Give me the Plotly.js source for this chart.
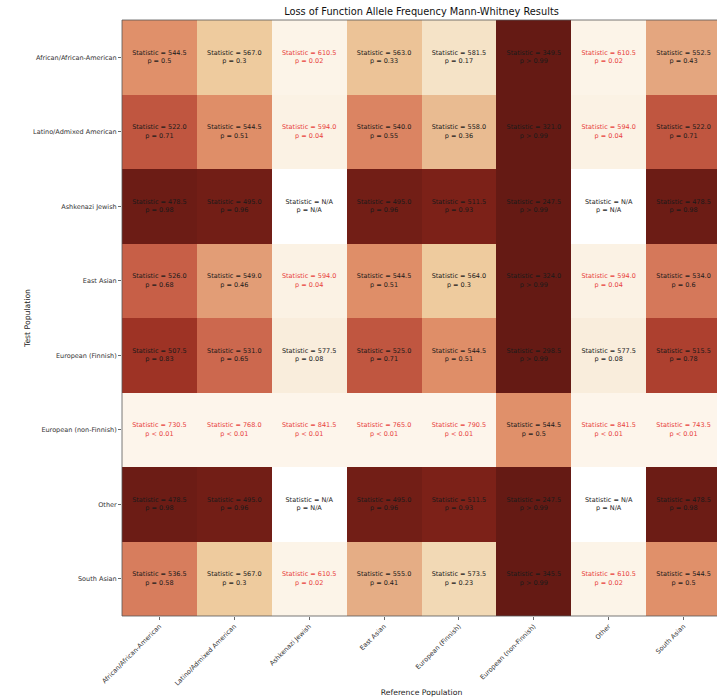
<!DOCTYPE html>
<html>
<head>
<meta charset="utf-8">
<script src="https://cdn.plot.ly/plotly-3.0.1.min.js"></script>
<style>html,body{margin:0;padding:0;overflow:hidden;background:#fff;width:717px;height:698px;}</style>
</head>
<body>
<div id="chart"></div>
<script>
const populations = ["African/African-American","Latino/Admixed American","Ashkenazi Jewish","East Asian","European (Finnish)","European (non-Finnish)","Other","South Asian"];
const testPops = populations;
const refPops = populations;

// Statistic values, rows = test population, columns = reference population (null = N/A)
const statistics = [
  [544.5, 567.0, 610.5, 563.0, 581.5, 349.5, 610.5, 552.5],
  [522.0, 544.5, 594.0, 540.0, 558.0, 321.0, 594.0, 522.0],
  [478.5, 495.0, null, 495.0, 511.5, 247.5, null, 478.5],
  [526.0, 549.0, 594.0, 544.5, 564.0, 324.0, 594.0, 534.0],
  [507.5, 531.0, 577.5, 525.0, 544.5, 298.5, 577.5, 515.5],
  [730.5, 768.0, 841.5, 765.0, 790.5, 544.5, 841.5, 743.5],
  [478.5, 495.0, null, 495.0, 511.5, 247.5, null, 478.5],
  [536.5, 567.0, 610.5, 555.0, 573.5, 345.5, 610.5, 544.5]
];
// p-value labels as printed
const pLabels = [
  ["= 0.5","= 0.3","= 0.02","= 0.33","= 0.17","> 0.99","= 0.02","= 0.43"],
  ["= 0.71","= 0.51","= 0.04","= 0.55","= 0.36","> 0.99","= 0.04","= 0.71"],
  ["= 0.98","= 0.96","= N/A","= 0.96","= 0.93","> 0.99","= N/A","= 0.98"],
  ["= 0.68","= 0.46","= 0.04","= 0.51","= 0.3","> 0.99","= 0.04","= 0.6"],
  ["= 0.83","= 0.65","= 0.08","= 0.71","= 0.51","> 0.99","= 0.08","= 0.78"],
  ["< 0.01","< 0.01","< 0.01","< 0.01","< 0.01","= 0.5","< 0.01","< 0.01"],
  ["= 0.98","= 0.96","= N/A","= 0.96","= 0.93","> 0.99","= N/A","= 0.98"],
  ["= 0.58","= 0.3","= 0.02","= 0.41","= 0.23","> 0.99","= 0.02","= 0.5"]
];
// numeric p-values used for colour (null = N/A)
const pValues = [
  [0.5, 0.3, 0.02, 0.33, 0.17, 1.0, 0.02, 0.43],
  [0.71, 0.51, 0.04, 0.55, 0.36, 1.0, 0.04, 0.71],
  [0.98, 0.96, null, 0.96, 0.93, 1.0, null, 0.98],
  [0.68, 0.46, 0.04, 0.51, 0.3, 1.0, 0.04, 0.6],
  [0.83, 0.65, 0.08, 0.71, 0.51, 1.0, 0.08, 0.78],
  [0.005, 0.005, 0.005, 0.005, 0.005, 0.5, 0.005, 0.005],
  [0.98, 0.96, null, 0.96, 0.93, 1.0, null, 0.98],
  [0.58, 0.3, 0.02, 0.41, 0.23, 1.0, 0.02, 0.5]
];

const colorscale = [
  [0.0, "#fdf6ec"],
  [0.1, "#f8ebd8"],
  [0.2, "#f4dfbf"],
  [0.3, "#eecb9e"],
  [0.4, "#e6b088"],
  [0.5, "#e0906a"],
  [0.6, "#d5785a"],
  [0.7, "#c35942"],
  [0.8, "#a83a2a"],
  [0.9, "#86241a"],
  [1.0, "#651a14"]
];

const redX = [], redY = [], redT = [], blkX = [], blkY = [], blkT = [];
for (let i = 0; i < testPops.length; i++) {
  for (let j = 0; j < refPops.length; j++) {
    const s = statistics[i][j];
    const txt = "Statistic = " + (s === null ? "N/A" : s.toFixed(1)) + "<br>p " + pLabels[i][j];
    const p = pValues[i][j];
    if (p !== null && p < 0.05) { redX.push(refPops[j]); redY.push(testPops[i]); redT.push(txt); }
    else { blkX.push(refPops[j]); blkY.push(testPops[i]); blkT.push(txt); }
  }
}

const font = "DejaVu Sans, sans-serif";
const traces = [
  {
    type: "heatmap", x: refPops, y: testPops, z: pValues,
    colorscale: colorscale, zmin: 0, zmax: 1, showscale: false, hoverongaps: false
  },
  {
    type: "scatter", mode: "text", x: blkX, y: blkY, text: blkT,
    textfont: {family: font, size: 6.5, color: "#1a1a1a"}, hoverinfo: "skip", showlegend: false
  },
  {
    type: "scatter", mode: "text", x: redX, y: redY, text: redT,
    textfont: {family: font, size: 6.5, color: "#e8413c"}, hoverinfo: "skip", showlegend: false
  }
];

const layout = {
  width: 740, height: 698,
  margin: {l: 122, r: 19, t: 20, b: 82},
  paper_bgcolor: "#fff", plot_bgcolor: "#fff",
  font: {family: font, size: 6.5, color: "#222"},
  title: {text: "Loss of Function Allele Frequency Mann-Whitney Results", font: {family: font, size: 9.8, color: "#111"}, xref: "paper", x: 0.5, xanchor: "center", yref: "container", y: 0.983, yanchor: "middle"},
  xaxis: {
    type: "category", categoryorder: "array", categoryarray: refPops,
    tickangle: -45, ticks: "outside", ticklen: 3, tickcolor: "#444", tickwidth: 0.8,
    tickfont: {family: font, size: 6.5, color: "#333"},
    showgrid: false, zeroline: false, showline: false,
    title: {text: "Reference Population", font: {family: font, size: 7.7, color: "#222"}, standoff: 3}
  },
  yaxis: {
    type: "category", categoryorder: "array", categoryarray: testPops, autorange: "reversed",
    ticks: "outside", ticklen: 3, tickcolor: "#444", tickwidth: 0.8,
    tickfont: {family: font, size: 6.5, color: "#333"},
    showgrid: false, zeroline: false, showline: false,
    title: {text: "Test Population", font: {family: font, size: 7.7, color: "#222"}, standoff: 1}
  },
  shapes: [{type: "rect", xref: "paper", yref: "paper", x0: 0, x1: 1, y0: 0, y1: 1, line: {color: "#555", width: 0.8}}]
};

Plotly.newPlot("chart", traces, layout, {displayModeBar: false, staticPlot: true});
</script>
</body>
</html>
